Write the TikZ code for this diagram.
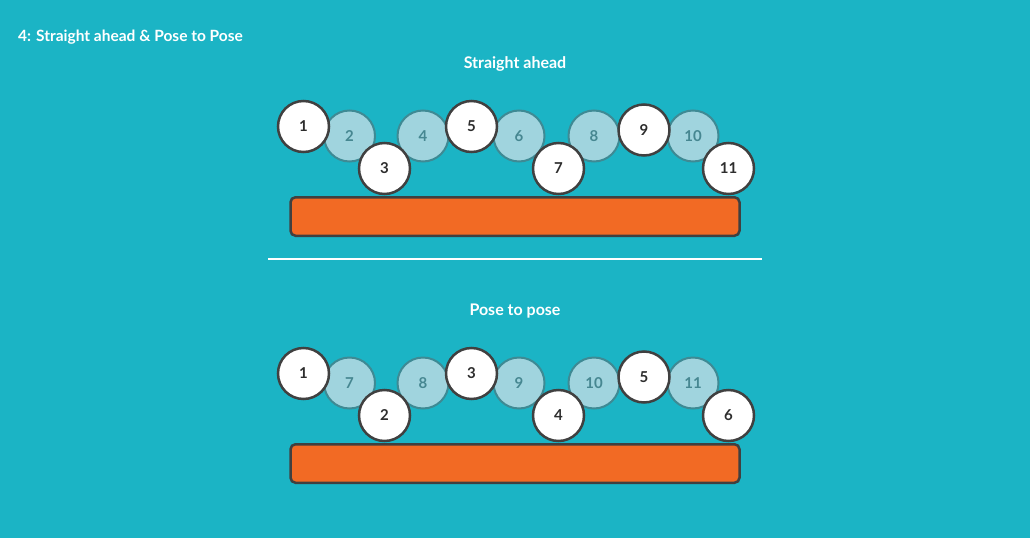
\documentclass[tikz,border=0pt]{standalone}
\usepackage{fontspec}
\setmainfont{Lato}
\definecolor{bg}{RGB}{27,180,197}
\definecolor{lightc}{RGB}{160,212,222}
\definecolor{lightb}{RGB}{62,138,148}
\definecolor{lightt}{RGB}{70,135,145}
\definecolor{darkb}{RGB}{64,64,64}
\definecolor{darkt}{RGB}{45,45,45}
\definecolor{barc}{RGB}{242,106,36}
\tikzset{
  keyball/.style={circle, draw=darkb, fill=white, line width=2.5pt, minimum size=51pt, inner sep=0pt, text=darkt, font=\bfseries\fontsize{15}{15}\selectfont},
  inball/.style={circle, draw=lightb, fill=lightc, line width=2pt, minimum size=51pt, inner sep=0pt, text=lightt, font=\bfseries\fontsize{15}{15}\selectfont},
  bar/.style={rectangle, rounded corners=5pt, draw=darkb, fill=barc, line width=2.5pt, minimum width=449pt, minimum height=38.5pt, inner sep=0pt},
  heading/.style={text=white, font=\bfseries\fontsize{15.5}{15.5}\selectfont, inner sep=0pt}
}
\begin{document}
\begin{tikzpicture}[x=1pt,y=-1pt]
\fill[bg] (0,0) rectangle (1030,538);
\useasboundingbox (0,0) rectangle (1030,538);
\node[heading, anchor=west] (title) at (18,37) {4: Straight ahead \& Pose to Pose};
\node[heading, font=\bfseries\fontsize{16}{16}\selectfont] (h1) at (515,64) {Straight ahead};
\node[heading, font=\bfseries\fontsize{16}{16}\selectfont] (h2) at (515,311) {Pose to pose};
% top row
\node[inball] (a2) at (349.5,136) {2};
\node[inball] (a4) at (423,136) {4};
\node[inball] (a6) at (519,136) {6};
\node[inball] (a8) at (594,136) {8};
\node[inball] (a10) at (693,136) {10};
\node[keyball] (a1) at (303.5,126.5) {1};
\node[keyball] (a3) at (384.5,168.5) {3};
\node[keyball] (a5) at (471.5,126.5) {5};
\node[keyball] (a7) at (558.5,168.5) {7};
\node[keyball] (a9) at (644,130) {9};
\node[keyball] (a11) at (728.5,168.5) {11};
\node[bar] (bar1) at (515,216.5) {};
% separator
\coordinate (sl) at (268,259);
\coordinate (sr) at (762,259);
\draw[white, line width=2.5pt] (sl) -- (sr);
% bottom row
\node[inball] (b2) at (349.5,383) {7};
\node[inball] (b4) at (423,383) {8};
\node[inball] (b6) at (519,383) {9};
\node[inball] (b8) at (594,383) {10};
\node[inball] (b10) at (693,383) {11};
\node[keyball] (b1) at (303.5,373.5) {1};
\node[keyball] (b3) at (384.5,415.5) {2};
\node[keyball] (b5) at (471.5,373.5) {3};
\node[keyball] (b7) at (558.5,415.5) {4};
\node[keyball] (b9) at (644,377) {5};
\node[keyball] (b11) at (728.5,415.5) {6};
\node[bar] (bar2) at (515,463.5) {};
\end{tikzpicture}
\end{document}
